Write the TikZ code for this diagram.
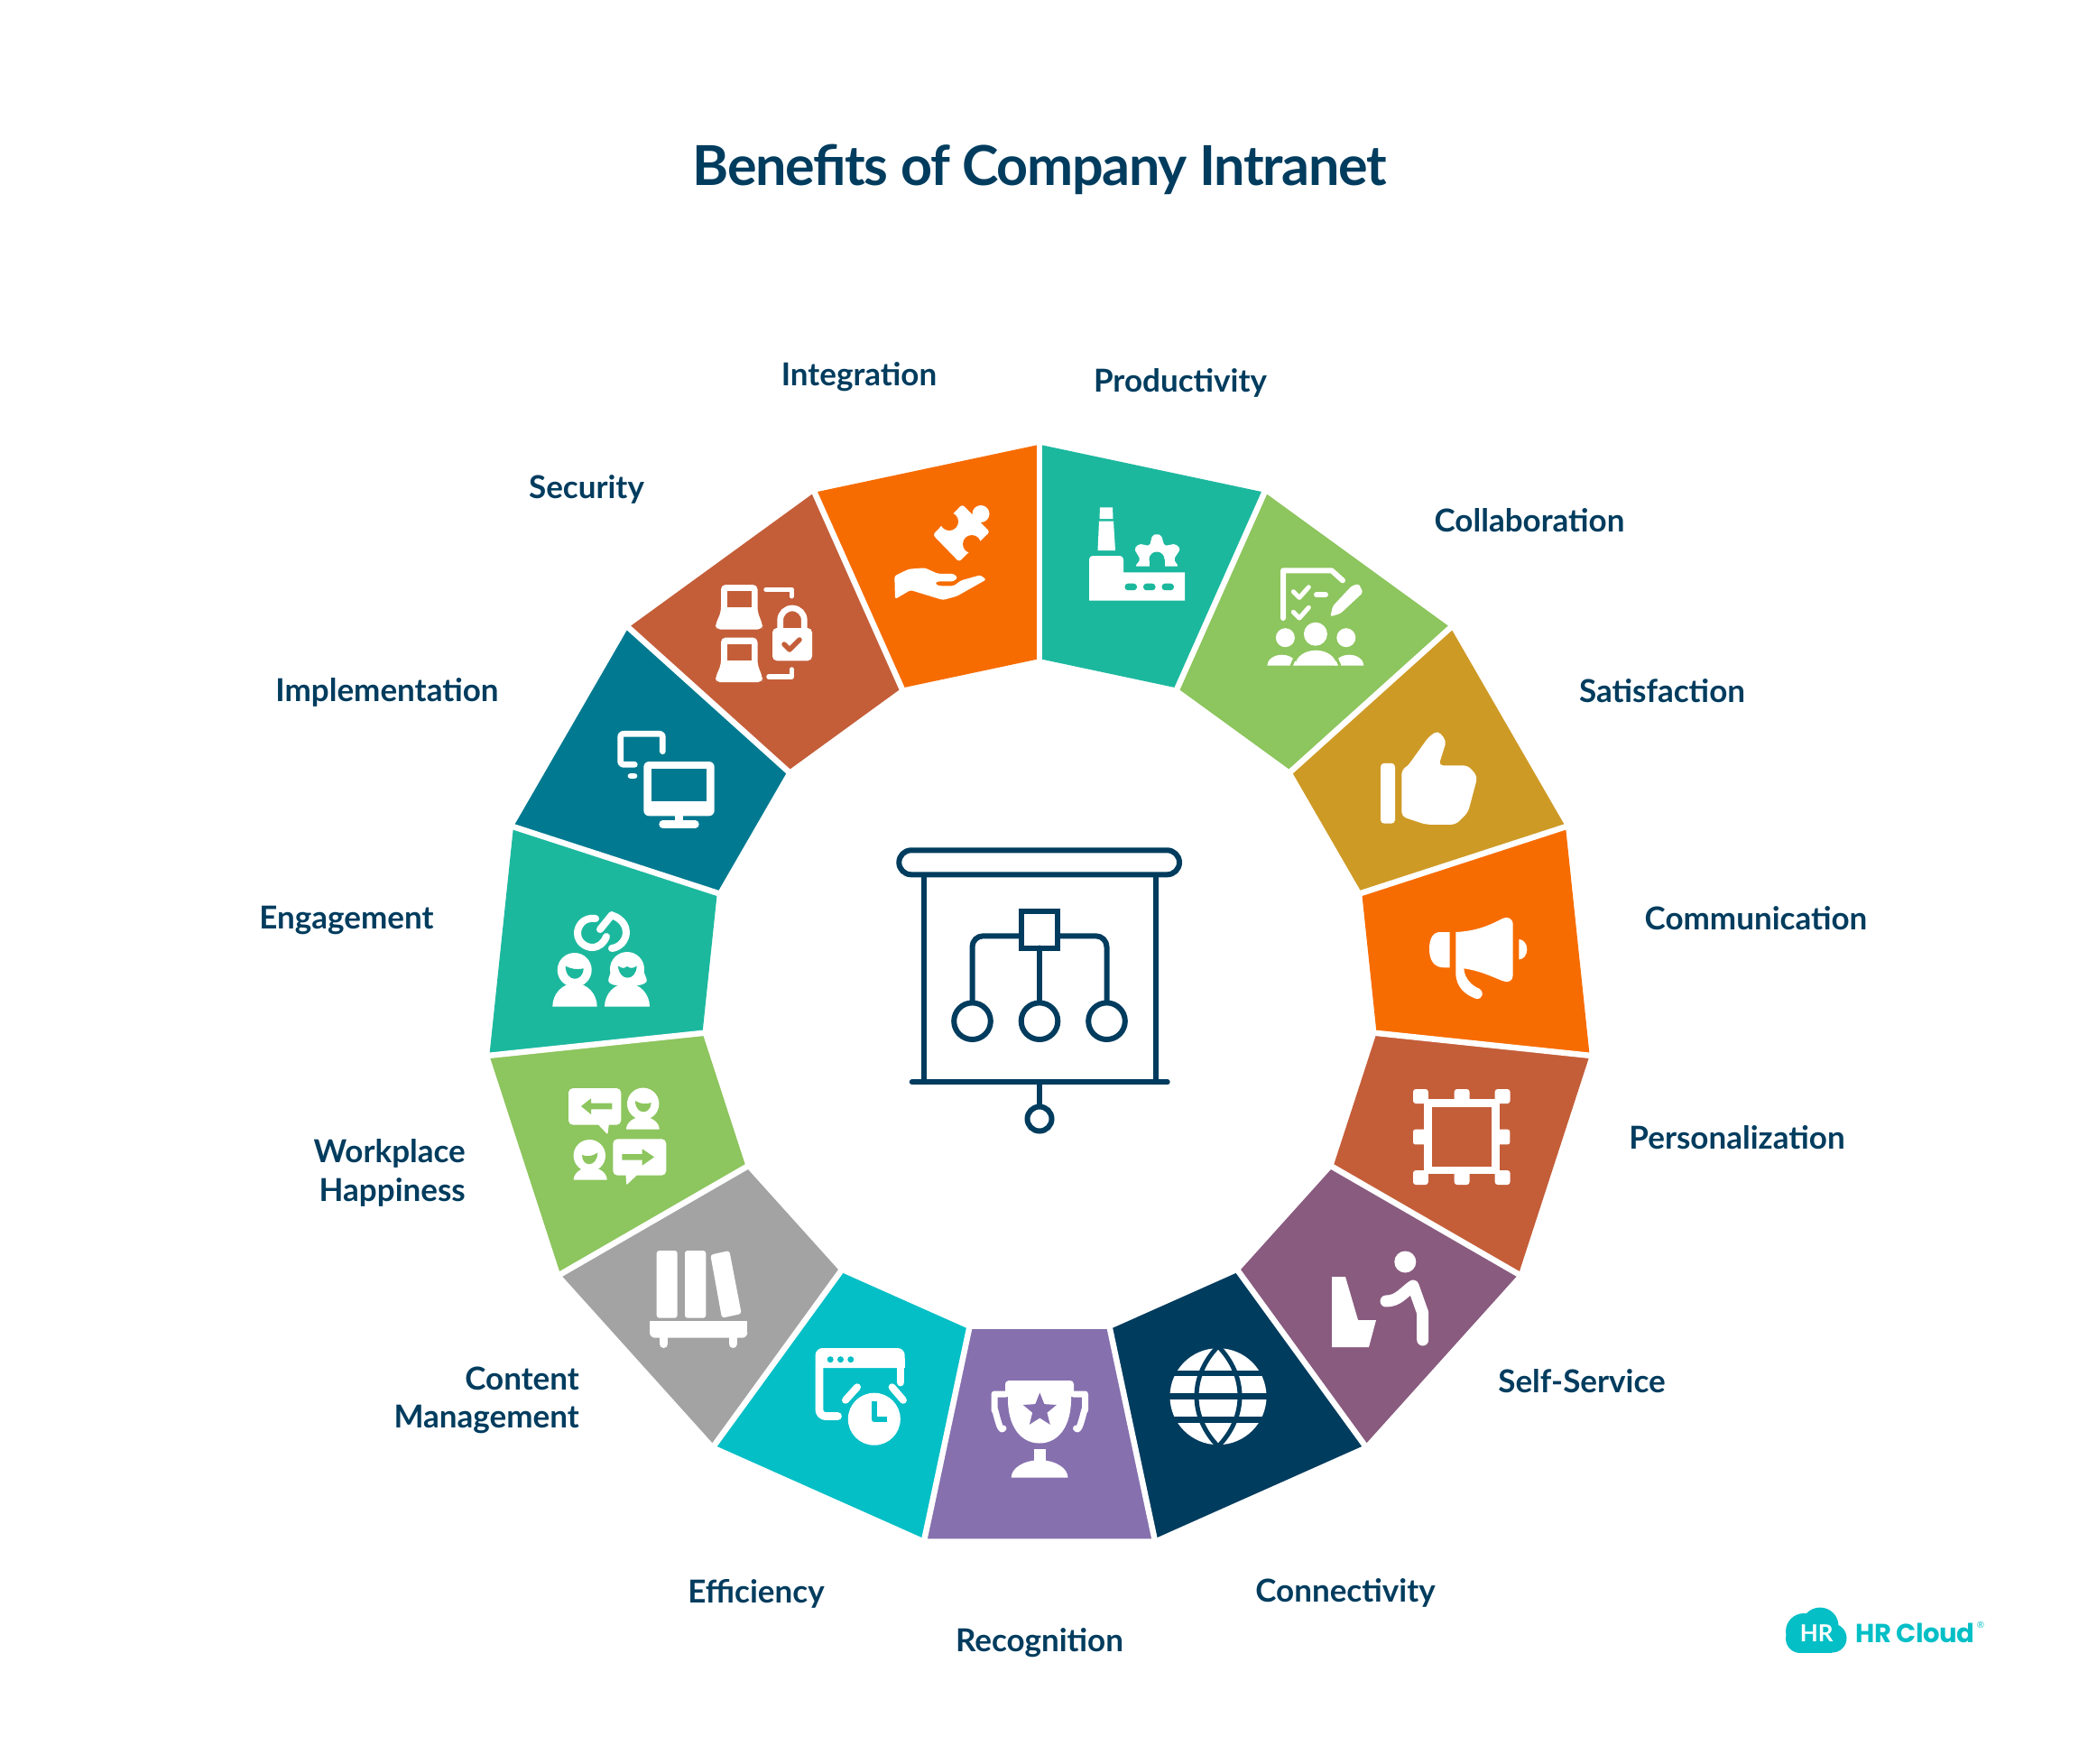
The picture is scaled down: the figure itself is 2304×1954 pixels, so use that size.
\documentclass[tikz,border=0pt]{standalone}
\usepackage{fontspec}
\setmainfont{Lato}
\newfontfamily\titlefont[LetterSpace=-2.2]{Lato Bold}
\newfontfamily\logofont[LetterSpace=-1.5]{Poppins}

\definecolor{segTeal}{HTML}{1CB89E}
\definecolor{segGreen}{HTML}{8DC55E}
\definecolor{segGold}{HTML}{CE9A26}
\definecolor{segOrange}{HTML}{F76C00}
\definecolor{segRust}{HTML}{C45E39}
\definecolor{segPlum}{HTML}{895B7F}
\definecolor{segNavy}{HTML}{003C5E}
\definecolor{segViolet}{HTML}{8670AE}
\definecolor{segCyan}{HTML}{04BFC6}
\definecolor{segGray}{HTML}{A3A3A3}
\definecolor{segPetrol}{HTML}{017A91}

\tikzstyle{benefit}=[font=\bfseries\fontsize{35}{42.6}\selectfont, text=segNavy, inner sep=0pt, align=right]
\tikzstyle{iconFill}=[fill=white]
\tikzstyle{iconLine}=[draw=white, line cap=round, line join=round]
\tikzstyle{boardLine}=[draw=segNavy, line width=6pt, line cap=round, line join=round]

\newcommand{\dome}[4]{\fill[iconFill] (#1,#3) arc[start angle=180, end angle=360, x radius={(#2-#1)/2}, y radius=#4] -- cycle;}
\newcommand{\laptop}[1]{%
	\begin{scope}[shift={(0,#1)}]
		\fill[iconFill, rounded corners=5pt] (799,648) -- (839.5,648) -- (839.5,678) -- (845,692) -- (845,697.5) -- (793,697.5) -- (793,692) -- (799,678) -- cycle;
		\fill[segRust] (805.7,655) rectangle (833.3,673.3);
	\end{scope}}

\begin{document}
\begin{tikzpicture}[x=1pt, y=-1pt]
	\useasboundingbox (0,0) rectangle (2304,1954);

	\node(title) at (1152,188) [font=\titlefont\fontsize{61}{70}\selectfont, text=segNavy, inner sep=0pt] {Benefits of Company Intranet};

	% Ring
	\begin{scope}[shift={(1152,1105.7)}]
		\foreach \col [count=\i from 0, evaluate=\i as \a using -90+24*\i] in {segTeal,segGreen,segGold,segOrange,segRust,segPlum,segNavy,segViolet,segCyan,segGray,segGreen,segTeal,segPetrol,segRust,segOrange}
			{
				\fill[\col] (\a:613) -- (\a+24:613) -- (\a+24:375.6) -- (\a:375.6) -- cycle;
			}
		\foreach \i [evaluate=\i as \a using -90+24*\i] in {0,...,14}
			{
				\draw[white, line width=6.5pt] (\a:365) -- (\a:625);
			}
	\end{scope}

	% Labels
	\node(productivity) at (1308,424) [benefit] {Productivity};
	\node(collaboration) at (1695,577) [benefit] {Collaboration};
	\node(satisfaction) at (1842,766) [benefit] {Satisfaction};
	\node(communication) at (1946,1018) [benefit] {Communication};
	\node(personalization) at (1925,1261) [benefit] {Personalization};
	\node(selfService) at (1753,1531) [benefit] {Self-Service};
	\node(connectivity) at (1491,1765) [benefit] {Connectivity};
	\node(recognition) at (1152,1821) [benefit] {Recognition};
	\node(efficiency) at (838,1766) [benefit] {Efficiency};
	\node(content) at (642,1552) [benefit, anchor=east] {Content\\Management};
	\node(workplace) at (516,1300) [benefit, anchor=east] {Workplace\\Happiness};
	\node(engagement) at (384,1020) [benefit] {Engagement};
	\node(implementation) at (429,767) [benefit] {Implementation};
	\node(security) at (650,542) [benefit] {Security};
	\node(integration) at (952,418) [benefit] {Integration};

	% Board
	\draw[boardLine, rounded corners=13.5pt] (996.3,942.3) rectangle (1307,969.3);
	\draw[boardLine] (1023.7,972) -- (1023.7,1199);
	\draw[boardLine] (1280.7,972) -- (1280.7,1199);
	\draw[boardLine] (1010.7,1199.3) -- (1293.7,1199.3);
	\draw[boardLine] (1152,1199.3) -- (1152,1226);
	\draw[boardLine] (1152,1240) circle[radius=13.5];
	\draw[boardLine, line join=miter] (1132,1010) rectangle (1172,1050.5);
	\draw[boardLine, rounded corners=12pt] (1077.5,1110) -- (1077.5,1037.3) -- (1132,1037.3);
	\draw[boardLine, rounded corners=12pt] (1226.5,1110) -- (1226.5,1037.3) -- (1172,1037.3);
	\draw[boardLine] (1152,1050.5) -- (1152,1110);
	\foreach \x in {1077.5,1152,1226.5}
		\draw[boardLine] (\x,1131.7) circle[radius=20.3];

	% Productivity
	\fill[iconFill] (1219,562.3) -- (1233,562.3) -- (1233.5,575) -- (1218.5,575) -- cycle;
	\fill[iconFill] (1218,577.7) -- (1234,577.7) -- (1236,610) -- (1216.5,610) -- cycle;
	\fill[iconFill, rounded corners=4pt] (1207,665.7) -- (1207,616) -- (1245,616) -- (1245,640) [sharp corners] -- (1245,634.3) -- (1313,634.3) -- (1313,665.7) -- cycle;
	\foreach \x in {1246.5,1267,1287.5}
		\fill[segTeal, rounded corners=3.5pt] (\x,646.7) rectangle +(13.5,7.5);
	\fill[iconFill, rounded corners=2pt] (1258,627.7) -- (1263.7,620) -- (1257,608.3) -- (1262.3,602.7) -- (1274,605) -- (1277,593.3) -- (1282,591.7) -- (1287,593.3) -- (1290.4,605) -- (1302.5,602.7) -- (1308.3,608.3) -- (1300.7,620) -- (1306,627.7) -- cycle;
	\fill[segTeal] (1282,620) circle[radius=8.5];
	\fill[segTeal] (1273.5,620) rectangle (1290.5,628);

	% Collaboration
	\draw[iconLine, line width=6pt] (1422,685) -- (1422,632.3) -- (1475.7,632.3) -- (1488,643.3);
	\draw[iconLine, line width=5pt] (1433.3,655.7) -- (1440,662.3) -- (1450.3,650.7);
	\draw[iconLine, line width=6pt] (1459,659) -- (1469,659);
	\draw[iconLine, line width=5pt] (1433.3,678.3) -- (1440,685) -- (1450.3,673.3);
	\fill[iconFill, rounded corners=2pt] (1474.4,683.3) -- (1477,671.7) -- (1498,649.3) -- (1505.9,647) -- (1510.5,656.7) -- (1485.5,680) -- cycle;
	\fill[iconFill] (1457.9,702.7) circle[radius=13];
	\fill[iconFill] (1424.4,706.7) circle[radius=10.5];
	\fill[iconFill] (1491.8,706.7) circle[radius=10.5];
	\dome{1435.5}{1481}{737.7}{17}
	\dome{1404.3}{1437}{737.7}{12}
	\dome{1479}{1511.4}{737.7}{12}
	\draw[segGreen, line width=3pt] (1431,738) -- (1438,722) (1485,738) -- (1478,722);

	% Satisfaction
	\fill[iconFill, rounded corners=4pt] (1530,845.8) rectangle (1546,912.7);
	\fill[iconFill, rounded corners=5pt] (1553.3,904.9) -- (1553.3,852.6) -- (1559.3,850) -- (1583,817) -- (1593.3,809.5) -- (1603,821) -- (1594.3,848.4) -- (1626.7,848.4) -- (1637.5,860.4) -- (1627,900) -- (1613.3,913.8) -- (1580,913.8) -- cycle;

	% Communication
	\fill[iconFill] (1606.7,1033) -- (1596,1033) .. controls (1588,1033) and (1584,1040) .. (1584,1052) .. controls (1584,1065) and (1590,1072.3) .. (1600,1072.3) -- (1606.7,1072.3) -- cycle;
	\fill[iconFill] (1613.3,1033) .. controls (1635,1032) and (1650,1026) .. (1665,1018) .. controls (1671,1015) and (1676.7,1018) .. (1676.7,1025) -- (1676.7,1081) .. controls (1676.7,1087) and (1671,1090) .. (1665,1087) .. controls (1650,1081) and (1640,1076) .. (1622.3,1073.3) .. controls (1623,1085) and (1632,1093) .. (1640,1096) .. controls (1645,1099) and (1643,1108) .. (1636,1107) .. controls (1625,1103) and (1613.3,1095) .. (1613.3,1078) -- cycle;
	\fill[iconFill] (1683.3,1041) arc[start angle=-90, end angle=90, x radius=9, y radius=11.2] -- cycle;

	% Personalization
	\draw[white, line width=8.3pt] (1582.5,1222.6) rectangle (1657.5,1297);
	\foreach \x/\y in {1566/1207,1611.7/1207,1656.7/1207,1566/1297,1611.7/1297,1656.7/1297}
		\fill[iconFill, rounded corners=3pt] (\x,\y) rectangle +(16.8,16);
	\fill[iconFill, rounded corners=2.5pt] (1566,1251.7) rectangle (1582,1268.4);
	\fill[iconFill, rounded corners=2.5pt] (1657.5,1251.7) rectangle (1673.3,1268.4);

	% Self-Service
	\fill[iconFill] (1557.3,1398.5) circle[radius=12];
	\draw[iconLine, line width=13pt] (1536,1442) to[out=0, in=215] (1566,1425) -- (1576.7,1455) -- (1576.7,1485);
	\fill[iconFill] (1476,1415) -- (1491,1415) -- (1505,1463) -- (1525,1463) -- (1517,1493) -- (1476,1493) -- cycle;

	% Connectivity
	\fill[iconFill] (1350,1547.7) circle[radius=53.5];
	\draw[segNavy, line width=6.5pt] (1290,1522) -- (1410,1522) (1290,1547.7) -- (1410,1547.7) (1290,1573.7) -- (1410,1573.7);
	\draw[segNavy, line width=5pt] (1350,1492) .. controls (1318,1525) and (1318,1570) .. (1350,1603);
	\draw[segNavy, line width=5pt] (1350,1492) .. controls (1382,1525) and (1382,1570) .. (1350,1603);

	% Recognition
	\fill[iconFill, rounded corners=4pt] (1114,1530) -- (1190,1530) -- (1190,1548) -- (1114,1548) -- cycle;
	\fill[iconFill] (1117,1540) -- (1187,1540) -- (1187,1553) .. controls (1186,1585) and (1170,1599.5) .. (1152,1599.5) .. controls (1134,1599.5) and (1118,1585) .. (1117,1553) -- cycle;
	\begin{scope}[shift={(1152.3,1563)}]
		\fill[segViolet] (-90:19.5) \foreach \k in {1,...,9} { -- ({-90+36*\k}:{mod(\k,2)==0 ? 19.5 : 8.5}) } -- cycle;
	\end{scope}
	\draw[iconLine, line width=7pt] (1115,1545) -- (1102,1545) -- (1102,1563) to[out=90, in=-120] (1112,1583);
	\draw[iconLine, line width=7pt] (1189.5,1545) -- (1202.5,1545) -- (1202.5,1563) to[out=90, in=-60] (1192.5,1583);
	\fill[iconFill] (1145.7,1606) rectangle (1158.5,1622);
	\dome{1120.7}{1183.5}{1637.7}{19.5}

	% Efficiency
	\fill[iconFill, rounded corners=8pt] (903.6,1516) -- (903.6,1494) -- (1002.7,1494) -- (1002.7,1516) -- cycle;
	\fill[iconFill] (903.6,1505) rectangle (1002.7,1516);
	\draw[iconLine, line width=8.8pt, rounded corners=7pt] (908,1510) -- (908,1569.5) -- (928.5,1569.5);
	\draw[iconLine, line width=8.8pt] (998,1510) -- (998,1532);
	\foreach \x in {920.2,931.5,942.8}
		\fill[segCyan] (\x,1506.7) circle[radius=3.5];
	\fill[iconFill] (968.8,1572.7) circle[radius=29];
	\draw[segCyan, line width=6pt, line join=round] (968.8,1553.3) -- (968.8,1573.3) -- (983,1573.3);
	\draw[iconLine, line width=8pt] (950,1537.3) -- (937,1551.7);
	\draw[iconLine, line width=8pt] (988.6,1537.3) -- (1000.9,1551.7);

	% Content Management
	\fill[iconFill, rounded corners=3pt] (727.7,1386) rectangle (750.7,1460.7);
	\fill[iconFill, rounded corners=3pt] (759,1386) rectangle (782.3,1460.7);
	\fill[iconFill, rounded corners=3pt] (787.3,1390.7) -- (808.3,1386) -- (821.7,1456) -- (800,1460.7) -- cycle;
	\fill[iconFill, rounded corners=6pt] (720,1472) -- (720,1482.7) -- (828.3,1482.7) -- (828.3,1472) [sharp corners] -- cycle;
	\fill[iconFill] (720,1464.3) rectangle (828.3,1475);
	\draw[iconLine, line width=9pt] (735.5,1482) -- (735.5,1489.5);
	\draw[iconLine, line width=9pt] (812.2,1482) -- (812.2,1489.5);

	% Workplace Happiness
	\fill[iconFill, rounded corners=5pt] (630,1206) rectangle (688.3,1246.7);
	\fill[iconFill, rounded corners=1pt] (661.7,1245) -- (673.3,1257.3) -- (675,1245) -- cycle;
	\fill[segGreen] (644,1226) -- (655,1217.3) -- (655,1222.7) -- (678.3,1222.7) -- (678.3,1229.3) -- (655,1229.3) -- (655,1235) -- cycle;
	\fill[iconFill] (712.7,1223.3) circle[radius=17.7];
	\fill[segGreen] (704,1220) .. controls (711,1224) and (716,1224) .. (721.7,1222) .. controls (721,1236) and (704,1236) .. (704,1220);
	\dome{694}{730.7}{1251.7}{14}
	\fill[iconFill, rounded corners=5pt] (679.3,1262.3) rectangle (738.3,1302.7);
	\fill[iconFill, rounded corners=1pt] (693.3,1300) -- (694.3,1313.3) -- (708.3,1300) -- cycle;
	\fill[segGreen] (725,1282.3) -- (711.7,1273.3) -- (711.7,1279) -- (689.3,1279) -- (689.3,1285.6) -- (711.7,1285.6) -- (711.7,1291.7) -- cycle;
	\fill[iconFill] (653.3,1280.7) circle[radius=17.7];
	\fill[segGreen] (645,1280) .. controls (650,1282) and (656,1282) .. (662.3,1277.3) .. controls (662,1294) and (645,1294) .. (645,1280);
	\dome{635.7}{672.7}{1307.7}{14}

	% Engagement
	\draw[iconLine, line width=8pt] (660,1018) .. controls (645,1016) and (640,1028) .. (640,1034) .. controls (640,1045) and (650,1050) .. (656,1050) .. controls (664,1050) and (669,1045) .. (672,1038);
	\draw[iconLine, line width=8pt] (665,1030) -- (678,1014);
	\draw[iconLine, line width=8pt] (680,1015) .. controls (690,1019) and (694,1027) .. (694,1033) .. controls (694,1042) and (687,1050) .. (678,1051);
	\fill[iconFill] (636.7,1075) circle[radius=19];
	\fill[segTeal] (626.7,1070.7) .. controls (633,1074) and (640,1075) .. (646.7,1073.3) .. controls (646,1089) and (627,1089) .. (626.7,1070.7);
	\dome{612.3}{661.7}{1115.7}{26}
	\fill[iconFill] (695,1074) circle[radius=19];
	\fill[iconFill, rounded corners=3pt] (680,1068) -- (673.3,1088) -- (680,1092) -- (710,1092) -- (717.7,1088) -- (710,1068) -- cycle;
	\fill[segTeal] (685,1070.5) .. controls (690,1074) and (692,1073) .. (695,1071) .. controls (698,1073) and (701,1074) .. (705.7,1070.5) .. controls (705,1088) and (686,1088) .. (685,1070.5);
	\dome{670}{720}{1115.7}{26}

	% Implementation
	\draw[iconLine, line width=6.7pt, rounded corners=3pt] (734.3,832.7) -- (734.3,813.3) -- (687.7,813.3) -- (687.7,847.3) -- (703.3,847.3);
	\draw[iconLine, line width=6.7pt] (699,860) -- (703,860);
	\fill[iconFill, rounded corners=6pt] (713.3,844) rectangle (791.7,904.3);
	\fill[segPetrol] (722.3,852.3) rectangle (783.3,888.3);
	\fill[iconFill] (748.3,904) rectangle (757.3,910);
	\draw[iconLine, line width=8.4pt] (734.5,913.5) -- (770.5,913.5);

	% Security
	\laptop{0}
	\laptop{58.6}
	\draw[iconLine, line width=5.5pt] (849,653.3) -- (877.3,653.3) -- (877.3,660.7);
	\draw[iconLine, line width=5.5pt] (852,750) -- (877.3,750) -- (877.3,742);
	\draw[white, line width=6.7pt] (864.7,696) -- (864.7,687.3) arc[start angle=180, end angle=360, radius=13.3] -- (891.3,696);
	\fill[iconFill, rounded corners=5pt] (856,696) rectangle (900,732.3);
	\draw[segRust, line width=5.5pt, line cap=round, line join=round] (869,714) -- (875,720) -- (886,709);

	% Integration
	\fill[iconFill, rounded corners=3pt] (1066.3,559) -- (1097,589.3) -- (1062.8,622.7) -- (1033.8,592.7) -- cycle;
	\fill[iconFill] (1087,569.5) circle[radius=9.5];
	\fill[segOrange] (1052,578) circle[radius=10];
	\fill[segOrange] (1077,603) circle[radius=10];
	\fill[iconFill, rounded corners=2.5pt] (991.3,638.3) -- (1007,630.7) -- (1024.8,629.3) -- (1039,635.7) -- (1057,636) -- (1061.4,640) -- (1057,644.3) -- (1039,644.3) -- (1036,646.7) -- (1040.4,649.3) -- (1057,649.3) -- (1065,643.3) -- (1086.4,637.3) -- (1093,642.3) -- (1060.5,660.7) -- (1045,665) -- (1009,654) -- (992,664) -- cycle;

	% Logo
	\fill[segCyan] (2017,1802) circle[radius=20.5];
	\fill[segCyan] (1999,1808) circle[radius=20];
	\fill[segCyan] (1995,1816) circle[radius=16];
	\fill[segCyan] (2030.5,1815.5) circle[radius=16];
	\fill[segCyan] (1995,1815) rectangle (2030,1831.7);
	\node(logoMark) at (2013.3,1810) [font=\bfseries\fontsize{26}{28}\selectfont, text=white, inner sep=0pt] {HR};
	\node(logoText) at (2056,1810) [anchor=west, font=\logofont\bfseries\fontsize{29}{34}\selectfont, text=segCyan, inner sep=0pt] {HR Cloud};
	\node(logoMarkR) at (2195,1801) [font=\fontsize{10}{11}\selectfont, text=segCyan, inner sep=0pt] {®};

\end{tikzpicture}
\end{document}
